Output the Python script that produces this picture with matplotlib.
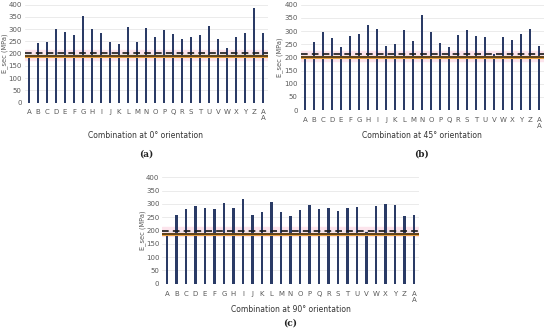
import matplotlib.pyplot as plt
import numpy as np

W, H = 550, 335

labels = [chr(c) for c in range(ord("A"), ord("Z") + 1)] + ["A\nA"]

vals_0 = [189, 245, 248, 301, 288, 277, 355, 299, 286, 249, 238, 307, 248, 304,
          266, 295, 279, 259, 266, 277, 312, 260, 222, 266, 285, 386, 286]
vals_45 = [200, 257, 295, 273, 239, 280, 290, 322, 306, 244, 249, 304, 262, 360,
           296, 253, 239, 285, 303, 282, 276, 211, 278, 267, 289, 306, 242]
vals_90 = [179, 258, 279, 292, 284, 280, 303, 286, 318, 257, 269, 308, 269, 255,
           277, 297, 282, 286, 272, 284, 287, 194, 293, 301, 297, 254, 260]

# reference lines: solid, dashed, band (low, high)
ref_0 = (189, 203, (175, 215))
ref_45 = (200, 212, (185, 225))
ref_90 = (185, 199, (180, 215))

bar_color = "#2A3B66"
text_color = "#595959"


def px_axes(fig, left, right, top, bottom):
    # pixel box (from top-left) -> figure fraction
    return fig.add_axes([left / W, 1 - bottom / H, (right - left) / W, (bottom - top) / H])


def draw_panel(fig, box, values, ref, xlabel, tag, ylab_x, xlab_y, tag_y):
    ax = px_axes(fig, *box)
    x = np.arange(len(values))
    solid, dashed, band = ref

    ax.axhspan(band[0], band[1], color="#FCE4EC", zorder=0)
    ax.bar(x, values, width=0.22, color=bar_color, zorder=2)
    ax.axhline(solid, color="#E8A040", lw=2.2, zorder=3)
    ax.axhline(solid, color="#3A2A10", lw=1.1, zorder=4)
    ax.axhline(dashed, color="#1A1A1A", lw=1.2, ls=(0, (4, 2.5)), zorder=4)

    ax.set_xlim(-0.5, len(values) - 0.5)
    ax.set_ylim(0, 400)
    ax.set_yticks(range(0, 401, 50))
    ax.set_xticks(x)
    ax.set_xticklabels(labels, linespacing=1.0)
    ax.tick_params(axis="both", length=0, labelsize=5, colors=text_color)
    ax.tick_params(axis="x", pad=5)
    ax.tick_params(axis="y", pad=2)
    ax.yaxis.grid(True, color="#E3E3E3", lw=0.5, zorder=1)
    ax.set_axisbelow(True)
    for s in ax.spines.values():
        s.set_visible(False)

    ymid = (box[2] + box[3]) / 2
    fig.text(ylab_x / W, 1 - ymid / H, "E_sec (MPa)", rotation=90, ha="center",
             va="center", fontsize=4.8, color=text_color)
    xmid = (box[0] + box[1]) / 2
    fig.text(xmid / W, 1 - xlab_y / H, xlabel, ha="center", va="center",
             fontsize=5.5, color="#333333")
    fig.text(xmid / W, 1 - tag_y / H, tag, ha="center", va="center",
             fontsize=6.5, family="DejaVu Serif", weight="bold", color="#222222")
    return ax


fig = plt.figure(figsize=(W / 100, H / 100), dpi=100)

draw_panel(fig, (24.5, 267.5, 4.7, 102.5), vals_0, ref_0,
           "Combination at 0\u00b0 orientation", "(a)", 5, 136, 154)
draw_panel(fig, (300.5, 543.5, 4.7, 110), vals_45, ref_45,
           "Combination at 45\u00b0 orientation", "(b)", 280, 136, 154)
draw_panel(fig, (162.2, 418.8, 177.3, 283.7), vals_90, ref_90,
           "Combination at 90\u00b0 orientation", "(c)", 143, 309, 323)

fig.savefig("out.png", dpi=100)
